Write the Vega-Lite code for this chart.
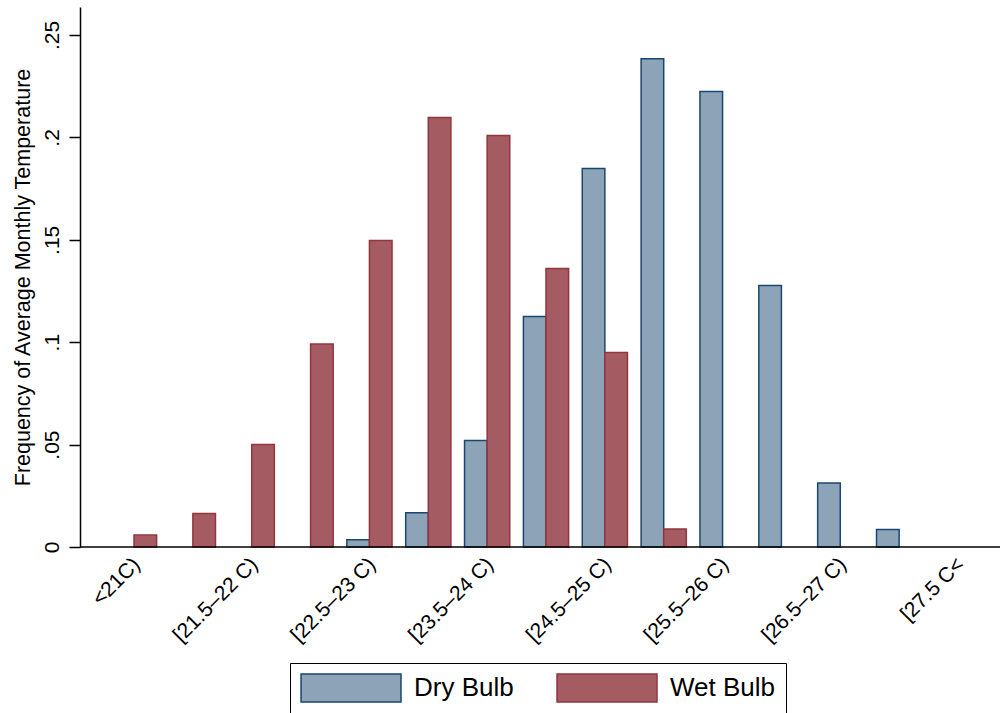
{
  "$schema": "https://vega.github.io/schema/vega-lite/v6.json",
  "autosize": "none",
  "width": 920,
  "height": 540,
  "padding": {"left": 80, "top": 7, "right": 0, "bottom": 166},
  "background": "white",
  "config": {
    "view": {"stroke": null},
    "font": "Liberation Sans",
    "axis": {"grid": false, "labelFont": "Liberation Sans", "titleFont": "Liberation Sans", "labelColor": "black", "titleColor": "black"}
  },
  "data": {
    "values": [
      {"temp": "<21C)", "series": "Wet Bulb", "freq": 0.0058},
      {"temp": "[21–21.5 C)", "series": "Wet Bulb", "freq": 0.0164},
      {"temp": "[21.5–22 C)", "series": "Wet Bulb", "freq": 0.0500},
      {"temp": "[22–22.5 C)", "series": "Wet Bulb", "freq": 0.0991},
      {"temp": "[22.5–23 C)", "series": "Dry Bulb", "freq": 0.0035},
      {"temp": "[22.5–23 C)", "series": "Wet Bulb", "freq": 0.1497},
      {"temp": "[23–23.5 C)", "series": "Dry Bulb", "freq": 0.0167},
      {"temp": "[23–23.5 C)", "series": "Wet Bulb", "freq": 0.2097},
      {"temp": "[23.5–24 C)", "series": "Dry Bulb", "freq": 0.0520},
      {"temp": "[23.5–24 C)", "series": "Wet Bulb", "freq": 0.2009},
      {"temp": "[24–24.5 C)", "series": "Dry Bulb", "freq": 0.1125},
      {"temp": "[24–24.5 C)", "series": "Wet Bulb", "freq": 0.1360},
      {"temp": "[24.5–25 C)", "series": "Dry Bulb", "freq": 0.1848},
      {"temp": "[24.5–25 C)", "series": "Wet Bulb", "freq": 0.0950},
      {"temp": "[25–25.5 C)", "series": "Dry Bulb", "freq": 0.2384},
      {"temp": "[25–25.5 C)", "series": "Wet Bulb", "freq": 0.0088},
      {"temp": "[25.5–26 C)", "series": "Dry Bulb", "freq": 0.2224},
      {"temp": "[26–26.5 C)", "series": "Dry Bulb", "freq": 0.1277},
      {"temp": "[26.5–27 C)", "series": "Dry Bulb", "freq": 0.0313},
      {"temp": "[27–27.5 C)", "series": "Dry Bulb", "freq": 0.0085}
    ]
  },
  "layer": [
    {
      "mark": {"type": "bar", "strokeWidth": 1.5},
      "encoding": {
        "x": {
          "field": "temp",
          "type": "nominal",
          "sort": null,
          "scale": {
            "domain": ["<21C)", "[21–21.5 C)", "[21.5–22 C)", "[22–22.5 C)", "[22.5–23 C)", "[23–23.5 C)", "[23.5–24 C)", "[24–24.5 C)", "[24.5–25 C)", "[25–25.5 C)", "[25.5–26 C)", "[26–26.5 C)", "[26.5–27 C)", "[27–27.5 C)", "[27.5 C<"],
            "range": [24.6, 907.4],
            "paddingInner": 0.232,
            "paddingOuter": 0.116
          },
          "axis": {
            "title": null,
            "domain": false,
            "ticks": false,
            "tickSize": 0,
            "values": ["<21C)", "[21.5–22 C)", "[22.5–23 C)", "[23.5–24 C)", "[24.5–25 C)", "[25.5–26 C)", "[26.5–27 C)", "[27.5 C<"],
            "labelAngle": 315,
            "labelAlign": "right",
            "labelBaseline": "middle",
            "labelFontSize": 21,
            "labelPadding": 14,
            "labelOffset": 3,
            "labelOverlap": false
          }
        },
        "xOffset": {
          "field": "series",
          "type": "nominal",
          "scale": {"domain": ["Dry Bulb", "Wet Bulb"], "paddingInner": 0, "paddingOuter": 0}
        },
        "y": {
          "field": "freq",
          "type": "quantitative",
          "scale": {"domain": [0, 0.263672], "nice": false, "zero": true},
          "axis": {
            "title": "Frequency of Average Monthly Temperature",
            "titleFontSize": 21.5,
            "titleFontWeight": "normal",
            "titlePadding": 7,
            "values": [0, 0.05, 0.1, 0.15, 0.2, 0.25],
            "labelExpr": "replace(format(datum.value, '.2~f'), '0.', '.')",
            "labelAngle": 270,
            "labelAlign": "center",
            "labelBaseline": "bottom",
            "labelFontSize": 21,
            "labelPadding": 7,
            "tickSize": 11,
            "tickWidth": 1.5,
            "tickColor": "black",
            "domainColor": "black",
            "domainWidth": 1.5
          }
        },
        "fill": {
          "field": "series",
          "type": "nominal",
          "scale": {"domain": ["Dry Bulb", "Wet Bulb"], "range": ["#8DA3B8", "#A45C62"]},
          "legend": {
            "title": null,
            "orient": "none",
            "legendX": 210,
            "legendY": 656,
            "direction": "horizontal",
            "strokeColor": "black",
            "padding": 10,
            "symbolType": "M-3.57,-1H3.57V1H-3.57Z",
            "symbolSize": 784,
            "symbolStrokeWidth": 1.5,
            "symbolOffset": 36,
            "symbolOpacity": 1,
            "labelExpr": "datum.label == 'Wet Bulb' ? datum.label + '\u00a0\u00a0' : datum.label",
            "labelFontSize": 26,
            "labelFont": "Liberation Sans",
            "labelColor": "black",
            "labelOffset": 48,
            "columnPadding": 40
          }
        },
        "stroke": {
          "field": "series",
          "type": "nominal",
          "scale": {"domain": ["Dry Bulb", "Wet Bulb"], "range": ["#1A476F", "#93353E"]},
          "legend": {
            "title": null,
            "orient": "none",
            "legendX": 210,
            "legendY": 656,
            "direction": "horizontal",
            "strokeColor": "black",
            "padding": 10,
            "symbolType": "M-3.57,-1H3.57V1H-3.57Z",
            "symbolSize": 784,
            "symbolStrokeWidth": 1.5,
            "symbolOffset": 36,
            "symbolOpacity": 1,
            "labelExpr": "datum.label == 'Wet Bulb' ? datum.label + '\u00a0\u00a0' : datum.label",
            "labelFontSize": 26,
            "labelFont": "Liberation Sans",
            "labelColor": "black",
            "labelOffset": 48,
            "columnPadding": 40
          }
        }
      }
    },
    {
      "data": {"values": [{"baseline": 0}]},
      "mark": {"type": "rule", "color": "black", "strokeWidth": 1.5},
      "encoding": {"y": {"datum": 0}}
    }
  ]
}
